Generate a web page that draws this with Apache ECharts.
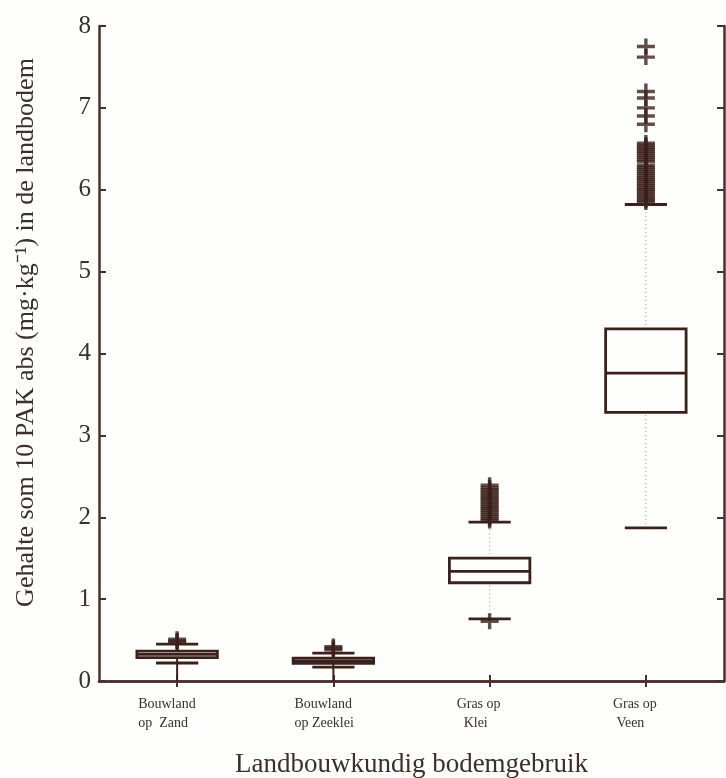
<!DOCTYPE html>
<html>
<head>
<meta charset="utf-8">
<script src="https://cdn.jsdelivr.net/npm/echarts@6/dist/echarts.min.js"></script>
<style>
  html, body { margin: 0; padding: 0; background: #fefefc; }
  #chart { width: 726px; height: 778px; }
</style>
</head>
<body>
<div id="chart"></div>
<script>
// Land-use categories: first and second label line
const categoryLine1 = ['Bouwland', 'Bouwland', 'Gras op', 'Gras op'];
const categoryLine2 = ['op  Zand', 'op Zeeklei', '  Klei', ' Veen'];

// Box statistics per category (mg/kg)
const lowestValue  = [0.00, 0.00, 0.73, 1.87];
const lowerWhisker = [0.22, 0.17, 0.76, 1.87];
const quartile1    = [0.285, 0.215, 1.20, 3.28];
const medianValue  = [0.325, 0.245, 1.34, 3.76];
const quartile3    = [0.365, 0.28, 1.50, 4.30];
const upperWhisker = [0.45, 0.34, 1.94, 5.82];

// Outliers per category
const outliersZand    = [0.47, 0.49, 0.51];
const outliersZeeklei = [0.38, 0.40, 0.42];
const outliersKlei    = [0.73, 1.96, 1.985, 2.01, 2.035, 2.06, 2.085, 2.11, 2.135, 2.16,
                         2.185, 2.21, 2.235, 2.26, 2.285, 2.31, 2.335, 2.36, 2.39];
const outliersVeen    = [5.85, 5.875, 5.90, 5.925, 5.95, 5.975, 6.00, 6.025, 6.05, 6.075,
                         6.10, 6.125, 6.15, 6.175, 6.20, 6.225, 6.25, 6.275, 6.30, 6.345,
                         6.37, 6.395, 6.42, 6.445, 6.47, 6.495, 6.52, 6.545, 6.57,
                         6.80, 6.90, 7.00, 7.12, 7.20, 7.62, 7.75];

// Y-axis ticks
const yMin = 0, yMax = 8, yStep = 1;

const INK = '#3b211c';
const FRAME = '#4a302b';
const TEXT = '#3a302c';
const BG = '#fefefc';
const SERIF = '"Liberation Serif", "Times New Roman", serif';

const categories = categoryLine1.map((a, i) => a + '\n' + categoryLine2[i]);

const boxData = categories.map((c, i) => [
  i, lowestValue[i], lowerWhisker[i], quartile1[i], medianValue[i], quartile3[i], upperWhisker[i]
]);

const outlierData = [];
[outliersZand, outliersZeeklei, outliersKlei, outliersVeen].forEach((arr, i) => {
  arr.forEach(v => outlierData.push([i, v]));
});

function renderBox(params, api) {
  const ci = api.value(0);
  const cx = api.coord([ci, 0])[0];
  const band = api.size([1, 0])[0];
  const boxW = band * 0.515;
  const capW = band * 0.27;
  const y = v => api.coord([ci, v])[1];
  const yMinV = y(api.value(1)), yLow = y(api.value(2)), yQ1 = y(api.value(3));
  const yMed = y(api.value(4)), yQ3 = y(api.value(5)), yHigh = y(api.value(6));

  const solid = { stroke: INK, lineWidth: 2, fill: null };
  const dotted = { stroke: '#b5aaa5', lineWidth: 1.2, lineDash: [1, 3], fill: null };
  // long whiskers print as faint dotted lines, short ones read as solid
  const whiskerStyle = len => (len > 30 ? dotted : solid);
  const heavy = { stroke: INK, lineWidth: 2.8 };

  const children = [];
  children.push({ type: 'line', shape: { x1: cx, y1: yQ3, x2: cx, y2: yHigh }, style: whiskerStyle(yQ3 - yHigh) });
  children.push({ type: 'line', shape: { x1: cx, y1: yLow, x2: cx, y2: yQ1 }, style: whiskerStyle(yLow - yQ1) });
  if (yMinV - yLow > 0.5) {
    children.push({ type: 'line', shape: { x1: cx, y1: yMinV, x2: cx, y2: yLow }, style: solid });
  }
  children.push({ type: 'line', shape: { x1: cx - capW / 2, y1: yHigh, x2: cx + capW / 2, y2: yHigh }, style: heavy });
  children.push({ type: 'line', shape: { x1: cx - capW / 2, y1: yLow, x2: cx + capW / 2, y2: yLow }, style: heavy });
  children.push({ type: 'rect', shape: { x: cx - boxW / 2, y: yQ3, width: boxW, height: yQ1 - yQ3 },
                  style: { stroke: INK, lineWidth: 2.8, fill: BG } });
  children.push({ type: 'line', shape: { x1: cx - boxW / 2, y1: yMed, x2: cx + boxW / 2, y2: yMed }, style: heavy });
  return { type: 'group', children };
}

const chart = echarts.init(document.getElementById('chart'), null, { renderer: 'canvas' });

const axisLine = { show: true, lineStyle: { color: FRAME, width: 2.5 } };
const labelFont = { fontFamily: SERIF, fontSize: 14, lineHeight: 19, color: TEXT, align: 'left' };

chart.setOption({
  backgroundColor: BG,
  animation: false,
  grid: { left: 99, right: 2, top: 26, bottom: 97, containLabel: false, outerBoundsMode: 'none' },
  xAxis: [
    {
      type: 'category',
      data: categories,
      position: 'bottom',
      axisLine: axisLine,
      axisTick: { show: true, inside: true, alignWithLabel: true, length: 6, lineStyle: { color: FRAME, width: 2 } },
      axisLabel: {
        interval: 0,
        margin: 14,
        // two-line labels share a common left edge
        formatter: (v, i) => {
          const key = i < 2 ? 'wide' : 'narrow';
          return v.split('\n').map(s => '{' + key + '|' + s + '}').join('\n');
        },
        rich: {
          wide: Object.assign({ width: 78 }, labelFont),
          narrow: Object.assign({ width: 66 }, labelFont)
        }
      },
      name: 'Landbouwkundig bodemgebruik',
      nameLocation: 'middle',
      nameGap: 70,
      nameTextStyle: { fontFamily: SERIF, fontSize: 27, color: TEXT }
    },
    {
      type: 'category',
      data: categories,
      position: 'top',
      axisLine: axisLine,
      axisTick: { show: true, inside: true, alignWithLabel: true, length: 6, lineStyle: { color: FRAME, width: 2 } },
      axisLabel: { show: false }
    }
  ],
  yAxis: [
    {
      type: 'value',
      min: yMin, max: yMax, interval: yStep,
      position: 'left',
      axisLine: axisLine,
      axisTick: { show: true, inside: true, length: 7, lineStyle: { color: FRAME, width: 2 } },
      axisLabel: { fontFamily: SERIF, fontSize: 25, color: TEXT, margin: 8 },
      splitLine: { show: false },
      name: 'Gehalte som 10 PAK abs (mg·kg⁻¹) in de landbodem',
      nameLocation: 'middle',
      nameGap: 60,
      nameTextStyle: { fontFamily: SERIF, fontSize: 26, color: TEXT, padding: [0, 0, 0, 42] }
    },
    {
      type: 'value',
      min: yMin, max: yMax, interval: yStep,
      position: 'right',
      axisLine: axisLine,
      axisTick: { show: true, inside: true, length: 7, lineStyle: { color: FRAME, width: 2 } },
      axisLabel: { show: false },
      splitLine: { show: false }
    }
  ],
  series: [
    {
      type: 'custom',
      xAxisIndex: 0, yAxisIndex: 0,
      renderItem: renderBox,
      encode: { x: 0, y: [1, 2, 3, 4, 5, 6] },
      data: boxData,
      z: 2
    },
    {
      type: 'scatter',
      xAxisIndex: 0, yAxisIndex: 0,
      symbol: 'path://M7.3,0 H10.7 V6.3 H18 V9.7 H10.7 V16 H7.3 V9.7 H0 V6.3 H7.3 Z',
      symbolSize: [18, 16],
      itemStyle: { color: INK },
      data: outlierData,
      z: 3
    }
  ]
});
</script>
</body>
</html>
